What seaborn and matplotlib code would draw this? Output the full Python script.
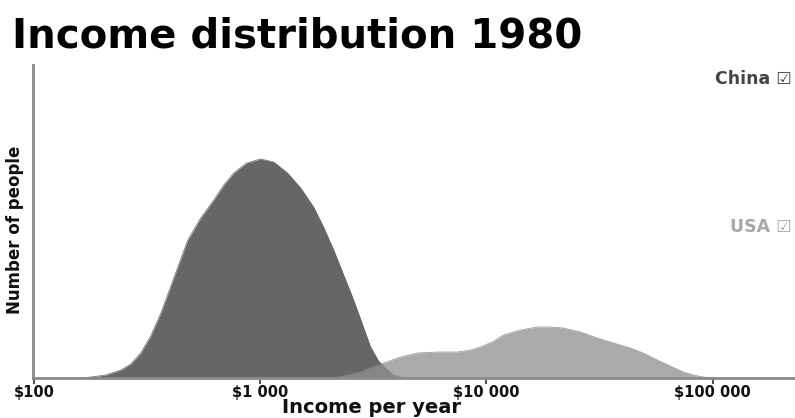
#!/usr/bin/env python
# -*- coding: utf-8 -*-

"""
Income distribution 1980 - China vs USA
"""

import numpy as np
import pandas as pd
import matplotlib
matplotlib.use("Agg")
import matplotlib.pyplot as plt
import seaborn as sns

# 数据 (log10 收入, 人数相对高度)
china_log_income = [2.20, 2.252, 2.318, 2.384, 2.428, 2.472, 2.516, 2.561, 2.618, 2.680,
                    2.737, 2.795, 2.839, 2.883, 2.940, 3.002, 3.060, 3.121, 3.179, 3.236,
                    3.280, 3.325, 3.369, 3.413, 3.453, 3.488, 3.523, 3.563, 3.589, 3.620, 3.66]
china_people = [0, 1, 3, 8, 14, 25, 42, 65, 100, 138,
                160, 178, 193, 205, 215, 219, 216, 205, 190, 171,
                151, 128, 103, 78, 53, 31, 17, 8, 3, 1, 0]

usa_log_income = [3.25, 3.355, 3.444, 3.545, 3.620, 3.695, 3.784, 3.872, 3.929, 3.973,
                  4.026, 4.075, 4.150, 4.225, 4.283, 4.340, 4.415, 4.490, 4.561, 4.636,
                  4.693, 4.755, 4.812, 4.870, 4.914, 4.958, 5.00]
usa_people = [0, 1, 6, 15, 21, 25, 26, 26, 28, 31,
              36, 43, 48, 51, 51, 50, 46, 40, 35, 30,
              25, 18, 12, 6, 3, 1, 0]

tick_values = [100, 1000, 10000, 100000]
tick_labels = ["$100", "$1 000", "$10 000", "$100 000"]

china_color = "#666666"
usa_color = "#919191"
axis_color = "#8a8a8a"

# 设置Seaborn样式
sns.set_theme(style="white")
plt.rcParams['font.family'] = ['DejaVu Sans']

df = pd.concat([
    pd.DataFrame({"income": np.power(10.0, china_log_income), "people": china_people, "country": "China"}),
    pd.DataFrame({"income": np.power(10.0, usa_log_income), "people": usa_people, "country": "USA"}),
])

fig = plt.figure(figsize=(7.95, 4.18), dpi=100)
ax = fig.add_axes([33 / 795, 40 / 418, 1 - 33 / 795, 313 / 418])

china = df[df.country == "China"]
usa = df[df.country == "USA"]
ax.fill_between(china.income, china.people, color=china_color, linewidth=0, zorder=2)
ax.fill_between(usa.income, usa.people, color=usa_color, alpha=0.77, linewidth=0, zorder=3)
sns.lineplot(data=df, x="income", y="people", hue="country",
             palette={"China": china_color, "USA": usa_color},
             linewidth=0.5, legend=False, ax=ax, zorder=2)

ax.set_xscale("log")
ax.set_xlim(10 ** (2 - 1 / 226.5), 10 ** (2 + 762 / 226.5))
ax.set_ylim(0, 313)

# 坐标轴样式
for side in ["top", "right"]:
    ax.spines[side].set_visible(False)
for side in ["left", "bottom"]:
    ax.spines[side].set_color(axis_color)
    ax.spines[side].set_linewidth(2)
    ax.spines[side].set_zorder(5)

ax.set_xticks(tick_values)
ax.set_xticklabels(tick_labels, fontsize=10.5, fontweight="bold", color="#111111")
ax.xaxis.set_minor_locator(matplotlib.ticker.NullLocator())
ax.tick_params(axis="x", direction="out", length=4, width=1.5, color="#555555", pad=1,
               bottom=True)
ax.set_yticks([])
ax.set_xlabel("")
ax.set_ylabel("")

# 标题和标签
fig.text(12 / 795, 1 - 47 / 418, "Income distribution 1980", fontsize=29,
         fontweight="bold", color="black", va="baseline", ha="left")
fig.text(371 / 795, 1 - 413 / 418, "Income per year", fontsize=14,
         fontweight="bold", color="#111111", va="baseline", ha="center")
fig.text(15 / 795, 1 - 230 / 418, "Number of people", fontsize=12,
         fontweight="bold", color="#111111", va="center", ha="center",
         rotation=90)

# 图例
fig.text(792 / 795, 1 - 79 / 418, "China \u2611", fontsize=12.5, fontweight="bold",
         color="#444444", va="center", ha="right")
fig.text(792 / 795, 1 - 227 / 418, "USA \u2611", fontsize=12.5, fontweight="bold",
         color="#a8a8a8", va="center", ha="right")

fig.savefig("out.png", dpi=100)
plt.close()
